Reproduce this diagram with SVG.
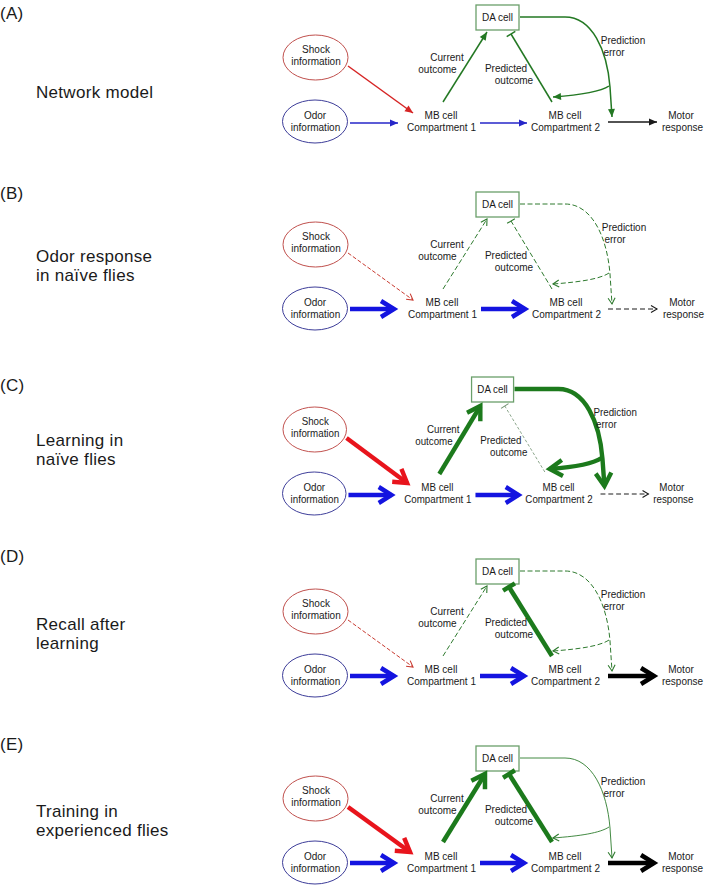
<svg xmlns="http://www.w3.org/2000/svg" width="709" height="890" viewBox="0 0 709 890">
<style>
.n{font-family:"Liberation Sans",Arial,sans-serif;font-size:10px;fill:#1a1a1a;text-anchor:middle}
.lab{font-family:"Liberation Sans",Arial,sans-serif;font-size:17px;fill:#1a1a1a;letter-spacing:0.3px}
.sh{fill:#fff;stroke:#c0504d;stroke-width:1}
.od{fill:#fff;stroke:#3d3d99;stroke-width:1}
.da{fill:#fff;stroke:#6a9f6a;stroke-width:1.3}
.c{fill:none}
.r1{stroke:#d62424;stroke-width:1.5;marker-end:url(#tri-r)}
.rd{stroke:#c83a30;stroke-width:1;stroke-dasharray:4 2;marker-end:url(#ch-r)}
.rk{stroke:#e8141c;stroke-width:4.5;marker-end:url(#k-r)}
.b1{stroke:#2626c8;stroke-width:1.5;marker-end:url(#tri-b)}
.bk{stroke:#1414e0;stroke-width:4.5;marker-end:url(#k-b)}
.k1{stroke:#1a1a1a;stroke-width:1.5;marker-end:url(#tri-k)}
.kd{stroke:#1a1a1a;stroke-width:1;stroke-dasharray:5 3;marker-end:url(#ch-k)}
.kk{stroke:#000;stroke-width:4.5;marker-end:url(#k-k)}
.g1{stroke:#237823;stroke-width:1.5;marker-end:url(#tri-g)}
.gd{stroke:#2e7a2e;stroke-width:1;stroke-dasharray:5 2.5;marker-end:url(#ch-g)}
.gk{stroke:#1c7a1c;stroke-width:4.5;marker-end:url(#k-g)}
.ge{stroke:#2e7d2e;stroke-width:0.9;marker-end:url(#ch-g)}
.gt{stroke:#237823;stroke-width:1.5;marker-end:url(#t-g)}
.gtd{stroke:#2e7a2e;stroke-width:1;stroke-dasharray:5 2.5;marker-end:url(#t-gd)}
.gtl{stroke:#6f8f6f;stroke-width:0.8;stroke-dasharray:3 2;marker-end:url(#t-gl)}
.gtk{stroke:#1c7a1c;stroke-width:4.5;marker-end:url(#t-gk)}
</style>
<defs>
<marker id="tri-r" markerUnits="userSpaceOnUse" orient="auto" overflow="visible" markerWidth="1" markerHeight="1"><path d="M0,0 L-8,-3.5 L-8,3.5 Z" fill="#d62424"/></marker>
<marker id="tri-b" markerUnits="userSpaceOnUse" orient="auto" overflow="visible" markerWidth="1" markerHeight="1"><path d="M0,0 L-8,-3.5 L-8,3.5 Z" fill="#2626c8"/></marker>
<marker id="tri-k" markerUnits="userSpaceOnUse" orient="auto" overflow="visible" markerWidth="1" markerHeight="1"><path d="M0,0 L-8,-3.5 L-8,3.5 Z" fill="#1a1a1a"/></marker>
<marker id="tri-g" markerUnits="userSpaceOnUse" orient="auto" overflow="visible" markerWidth="1" markerHeight="1"><path d="M0,0 L-8,-3.5 L-8,3.5 Z" fill="#237823"/></marker>
<marker id="ch-r" markerUnits="userSpaceOnUse" orient="auto" overflow="visible" markerWidth="1" markerHeight="1"><path d="M-6,-3.5 L0,0 L-6,3.5" fill="none" stroke="#c83a30" stroke-width="1.1"/></marker>
<marker id="ch-k" markerUnits="userSpaceOnUse" orient="auto" overflow="visible" markerWidth="1" markerHeight="1"><path d="M-6,-3.5 L0,0 L-6,3.5" fill="none" stroke="#1a1a1a" stroke-width="1.1"/></marker>
<marker id="ch-g" markerUnits="userSpaceOnUse" orient="auto" overflow="visible" markerWidth="1" markerHeight="1"><path d="M-6,-3.5 L0,0 L-6,3.5" fill="none" stroke="#2e7a2e" stroke-width="1.1"/></marker>
<marker id="k-r" markerUnits="userSpaceOnUse" orient="auto" overflow="visible" markerWidth="1" markerHeight="1"><path d="M-13,-8 L0,0 L-13,8" fill="none" stroke="#e8141c" stroke-width="4.5"/></marker>
<marker id="k-b" markerUnits="userSpaceOnUse" orient="auto" overflow="visible" markerWidth="1" markerHeight="1"><path d="M-13,-8 L0,0 L-13,8" fill="none" stroke="#1414e0" stroke-width="4.5"/></marker>
<marker id="k-k" markerUnits="userSpaceOnUse" orient="auto" overflow="visible" markerWidth="1" markerHeight="1"><path d="M-13,-8 L0,0 L-13,8" fill="none" stroke="#000" stroke-width="4.5"/></marker>
<marker id="k-g" markerUnits="userSpaceOnUse" orient="auto" overflow="visible" markerWidth="1" markerHeight="1"><path d="M-13,-8 L0,0 L-13,8" fill="none" stroke="#1c7a1c" stroke-width="4.5"/></marker>
<marker id="t-g" markerUnits="userSpaceOnUse" orient="auto" overflow="visible" markerWidth="1" markerHeight="1"><path d="M0,-5 L0,5" stroke="#237823" stroke-width="1.5"/></marker>
<marker id="t-gd" markerUnits="userSpaceOnUse" orient="auto" overflow="visible" markerWidth="1" markerHeight="1"><path d="M0,-4.5 L0,4.5" stroke="#2e7a2e" stroke-width="1.1"/></marker>
<marker id="t-gl" markerUnits="userSpaceOnUse" orient="auto" overflow="visible" markerWidth="1" markerHeight="1"><path d="M0,-4.5 L0,4.5" stroke="#6f8f6f" stroke-width="1"/></marker>
<marker id="t-gk" markerUnits="userSpaceOnUse" orient="auto" overflow="visible" markerWidth="1" markerHeight="1"><path d="M0,-7 L0,7" stroke="#1c7a1c" stroke-width="4.5"/></marker>
</defs>
<rect width="709" height="890" fill="#fff"/>

<g id="panel-labels">
<text class="lab" x="0" y="19">(A)</text>
<text class="lab" x="36" y="98">Network model</text>
<text class="lab" x="0" y="199">(B)</text>
<text class="lab" x="36" y="261.5">Odor response</text>
<text class="lab" x="36" y="280.5">in naïve flies</text>
<text class="lab" x="0" y="391">(C)</text>
<text class="lab" x="36" y="445.5">Learning in</text>
<text class="lab" x="36" y="464.5">naïve flies</text>
<text class="lab" x="0" y="562">(D)</text>
<text class="lab" x="36" y="629.5">Recall after</text>
<text class="lab" x="36" y="648.5">learning</text>
<text class="lab" x="0" y="750">(E)</text>
<text class="lab" x="36" y="816.5">Training in</text>
<text class="lab" x="36" y="835.5">experienced flies</text>
</g>

<!-- Panel A -->
<g id="panel-A">
<g id="A-shock"><ellipse class="sh" cx="315.5" cy="57.5" rx="32.5" ry="22.5"/><text class="n" x="316" y="53">Shock</text><text class="n" x="316" y="65">information</text></g>
<g id="A-odor"><ellipse class="od" cx="315" cy="121.5" rx="32.5" ry="21.5"/><text class="n" x="315" y="119">Odor</text><text class="n" x="315.5" y="131">information</text></g>
<g id="A-da"><rect class="da" x="476" y="5" width="43" height="25"/><text class="n" x="497.5" y="21">DA cell</text></g>
<g id="A-mb1"><text class="n" x="441" y="119">MB cell</text><text class="n" x="441.5" y="131">Compartment 1</text></g>
<g id="A-mb2"><text class="n" x="565" y="119">MB cell</text><text class="n" x="565.5" y="131">Compartment 2</text></g>
<g id="A-motor"><text class="n" x="681" y="119">Motor</text><text class="n" x="682.5" y="131">response</text></g>
<g id="A-connectors">
<path class="c r1" d="M348,66 L413,113"/>
<path class="c b1" d="M350,123 L398,123"/>
<path class="c b1" d="M480,123 L527,123"/>
<path class="c k1" d="M608,122 L657,122"/>
<path class="c g1" d="M443,102 L487,32"/>
<path class="c gt" d="M552,102 L511,34"/>
<path class="c g1" d="M520,17 L565,17 C592,17 607,50 610,87 L612,117"/>
<path class="c g1" d="M609,86 C600,92 580,95 553,97"/>
<text class="n" x="447" y="61">Current</text><text class="n" x="437.5" y="73">outcome</text>
<text class="n" x="506" y="72">Predicted</text><text class="n" x="514" y="84">outcome</text>
<text class="n" x="623" y="44">Prediction</text><text class="n" x="614" y="56">error</text>
</g>
</g>

<!-- Panel B -->
<g id="panel-B" transform="translate(0,187)">
<g id="B-shock"><ellipse class="sh" cx="315.5" cy="57.5" rx="32.5" ry="22.5"/><text class="n" x="316" y="53">Shock</text><text class="n" x="316" y="65">information</text></g>
<g id="B-odor"><ellipse class="od" cx="315" cy="121.5" rx="32.5" ry="21.5"/><text class="n" x="315" y="119">Odor</text><text class="n" x="315.5" y="131">information</text></g>
<g id="B-da"><rect class="da" x="476" y="5" width="43" height="25"/><text class="n" x="497.5" y="21">DA cell</text></g>
<g id="B-mb1"><text class="n" x="442" y="119">MB cell</text><text class="n" x="442.5" y="131">Compartment 1</text></g>
<g id="B-mb2"><text class="n" x="566" y="119">MB cell</text><text class="n" x="566.5" y="131">Compartment 2</text></g>
<g id="B-motor"><text class="n" x="682" y="119">Motor</text><text class="n" x="683.5" y="131">response</text></g>
<g id="B-connectors">
<path class="c rd" d="M348,66 L413,113"/>
<path class="c bk" d="M350,122 L394,122"/>
<path class="c bk" d="M481,122 L525,122"/>
<path class="c kd" d="M608,122 L657,122"/>
<path class="c gd" d="M443,102 L487,32"/>
<path class="c gtd" d="M552,102 L511,34"/>
<path class="c gd" d="M520,17 L565,17 C592,17 607,50 610,87 L612,117"/>
<path class="c gd" d="M609,86 C600,92 580,95 553,97"/>
<text class="n" x="447" y="61">Current</text><text class="n" x="437.5" y="73">outcome</text>
<text class="n" x="506" y="72">Predicted</text><text class="n" x="514" y="84">outcome</text>
<text class="n" x="624" y="44">Prediction</text><text class="n" x="615" y="56">error</text>
</g>
</g>

<!-- Panel C -->
<g id="panel-C" transform="translate(283,372) scale(0.977,1) translate(-283,0)">
<g id="C-shock"><ellipse class="sh" cx="315.5" cy="57.5" rx="32.5" ry="22.5"/><text class="n" x="316" y="53">Shock</text><text class="n" x="316" y="65">information</text></g>
<g id="C-odor"><ellipse class="od" cx="315" cy="121.5" rx="32.5" ry="21.5"/><text class="n" x="315" y="119">Odor</text><text class="n" x="315.5" y="131">information</text></g>
<g id="C-da"><rect class="da" x="476" y="5" width="43" height="25"/><text class="n" x="497.5" y="21">DA cell</text></g>
<g id="C-mb1"><text class="n" x="441" y="119">MB cell</text><text class="n" x="441.5" y="131">Compartment 1</text></g>
<g id="C-mb2"><text class="n" x="565" y="119">MB cell</text><text class="n" x="565.5" y="131">Compartment 2</text></g>
<g id="C-motor"><text class="n" x="681" y="119">Motor</text><text class="n" x="682.5" y="131">response</text></g>
<g id="C-connectors">
<path class="c rk" d="M348,66 L410,111"/>
<path class="c bk" d="M350,123 L394,123"/>
<path class="c bk" d="M480,123 L524,123"/>
<path class="c kd" d="M608,122 L657,122"/>
<path class="c gk" d="M443,102 L485,34"/>
<path class="c gtl" d="M551,100 L510,34"/>
<path class="c gk" d="M520,17 L565,17 C592,17 607,50 610,87 L612,114"/>
<path class="c gk" d="M609,86 C600,92 582,95 556,97"/>
<text class="n" x="447" y="61">Current</text><text class="n" x="437.5" y="73">outcome</text>
<text class="n" x="506" y="72">Predicted</text><text class="n" x="514" y="84">outcome</text>
<text class="n" x="623" y="44">Prediction</text><text class="n" x="614" y="56">error</text>
</g>
</g>

<!-- Panel D -->
<g id="panel-D" transform="translate(0,554)">
<g id="D-shock"><ellipse class="sh" cx="315.5" cy="57.5" rx="32.5" ry="22.5"/><text class="n" x="316" y="53">Shock</text><text class="n" x="316" y="65">information</text></g>
<g id="D-odor"><ellipse class="od" cx="315" cy="121.5" rx="32.5" ry="21.5"/><text class="n" x="315" y="119">Odor</text><text class="n" x="315.5" y="131">information</text></g>
<g id="D-da"><rect class="da" x="476" y="5" width="43" height="25"/><text class="n" x="497.5" y="21">DA cell</text></g>
<g id="D-mb1"><text class="n" x="441" y="119">MB cell</text><text class="n" x="441.5" y="131">Compartment 1</text></g>
<g id="D-mb2"><text class="n" x="565" y="119">MB cell</text><text class="n" x="565.5" y="131">Compartment 2</text></g>
<g id="D-motor"><text class="n" x="681" y="119">Motor</text><text class="n" x="682.5" y="131">response</text></g>
<g id="D-connectors">
<path class="c rd" d="M348,66 L413,113"/>
<path class="c bk" d="M350,122 L394,122"/>
<path class="c bk" d="M480,122 L524,122"/>
<path class="c kk" d="M608,122 L654,122"/>
<path class="c gd" d="M443,102 L487,32"/>
<path class="c gtk" d="M552,102 L509,33"/>
<path class="c gd" d="M520,17 L565,17 C592,17 607,50 610,87 L612,117"/>
<path class="c gd" d="M609,86 C600,92 580,95 553,97"/>
<text class="n" x="447" y="61">Current</text><text class="n" x="437.5" y="73">outcome</text>
<text class="n" x="506" y="72">Predicted</text><text class="n" x="514" y="84">outcome</text>
<text class="n" x="623" y="44">Prediction</text><text class="n" x="614" y="56">error</text>
</g>
</g>

<!-- Panel E -->
<g id="panel-E" transform="translate(0,741)">
<g id="E-shock"><ellipse class="sh" cx="315.5" cy="57.5" rx="32.5" ry="22.5"/><text class="n" x="316" y="53">Shock</text><text class="n" x="316" y="65">information</text></g>
<g id="E-odor"><ellipse class="od" cx="315" cy="121.5" rx="32.5" ry="21.5"/><text class="n" x="315" y="119">Odor</text><text class="n" x="315.5" y="131">information</text></g>
<g id="E-da"><rect class="da" x="476" y="5" width="43" height="25"/><text class="n" x="497.5" y="21">DA cell</text></g>
<g id="E-mb1"><text class="n" x="441" y="119">MB cell</text><text class="n" x="441.5" y="131">Compartment 1</text></g>
<g id="E-mb2"><text class="n" x="565" y="119">MB cell</text><text class="n" x="565.5" y="131">Compartment 2</text></g>
<g id="E-motor"><text class="n" x="681" y="119">Motor</text><text class="n" x="682.5" y="131">response</text></g>
<g id="E-connectors">
<path class="c rk" d="M348,66 L410,111"/>
<path class="c bk" d="M350,122 L394,122"/>
<path class="c bk" d="M480,122 L524,122"/>
<path class="c kk" d="M608,122 L654,122"/>
<path class="c gk" d="M443,101 L485,33"/>
<path class="c gtk" d="M552,101 L509,33"/>
<path class="c ge" d="M520,17 L565,17 C592,17 607,50 610,87 L612,117"/>
<path class="c ge" d="M609,86 C600,92 580,95 553,97"/>
<text class="n" x="447" y="61">Current</text><text class="n" x="437.5" y="73">outcome</text>
<text class="n" x="506" y="72">Predicted</text><text class="n" x="514" y="84">outcome</text>
<text class="n" x="623" y="44">Prediction</text><text class="n" x="614" y="56">error</text>
</g>
</g>
</svg>
